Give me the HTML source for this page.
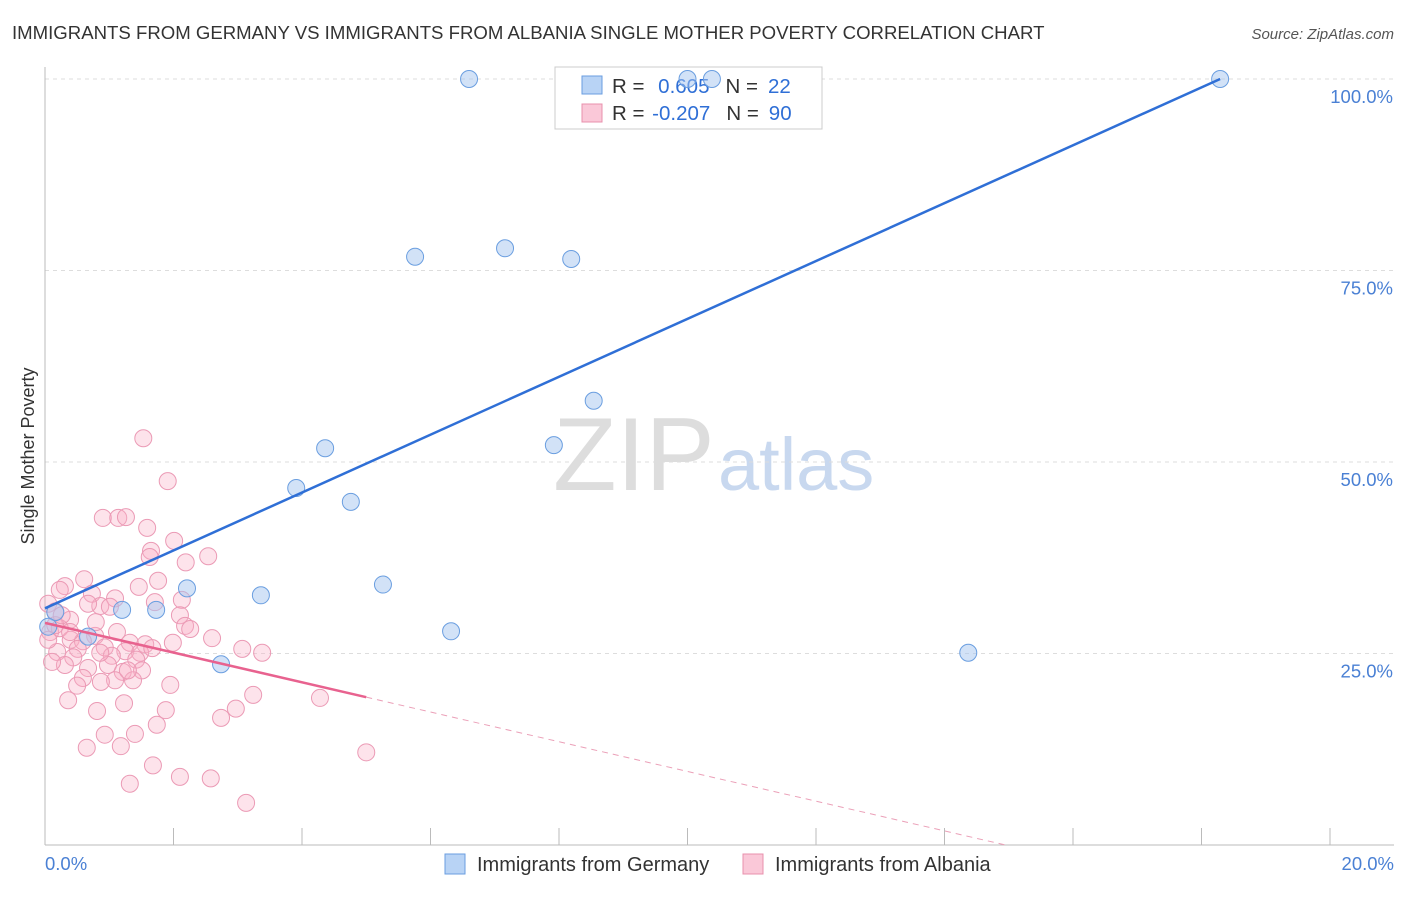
<!DOCTYPE html>
<html><head><meta charset="utf-8"><style>
body{margin:0;background:#fff;font-family:"Liberation Sans",sans-serif;}
svg text{font-family:"Liberation Sans",sans-serif;}
</style></head><body>
<svg id="chart" width="1406" height="892">
<text x="12" y="39" font-size="18.6" fill="#333">IMMIGRANTS FROM GERMANY VS IMMIGRANTS FROM ALBANIA SINGLE MOTHER POVERTY CORRELATION CHART</text>
<text x="1394" y="39" font-size="15" fill="#555" text-anchor="end" font-style="italic">Source: ZipAtlas.com</text>
<text x="34" y="456" font-size="18" fill="#333" text-anchor="middle" transform="rotate(-90 34 456)">Single Mother Poverty</text>
<text x="553" y="490" font-size="104" fill="#ddd" font-family="Liberation Serif">ZIP</text>
<text x="718" y="490" font-size="74" fill="#c8d8ef">atlas</text>
<g id="grid"></g><g id="axes"></g>
<g>
<rect x="555" y="67" width="267" height="62" fill="#fff" stroke="#ccc"/>
<rect x="582" y="76" width="20" height="18" fill="#b8d3f5" stroke="#6a9ee0"/>
<rect x="582" y="104" width="20" height="18" fill="#fac8d8" stroke="#e890ac"/>
<text x="612" y="93" font-size="20.5" fill="#333">R = <tspan fill="#2f6fd6" dx="8">0.605</tspan><tspan fill="#333" dx="16">N =</tspan><tspan fill="#2f6fd6" dx="10">22</tspan></text>
<text x="612" y="120" font-size="20.5" fill="#333">R = <tspan fill="#2f6fd6" dx="2">-0.207</tspan><tspan fill="#333" dx="16">N =</tspan><tspan fill="#2f6fd6" dx="10">90</tspan></text>
</g>
<g id="marks"></g>
<g>
<rect x="445" y="854" width="20" height="20" fill="#b8d3f5" stroke="#6a9ee0"/>
<text x="477" y="871" font-size="20" fill="#333">Immigrants from Germany</text>
<rect x="743" y="854" width="20" height="20" fill="#fac8d8" stroke="#e890ac"/>
<text x="775" y="871" font-size="20" fill="#333">Immigrants from Albania</text>
</g>
</svg>
<script>
const yTicks=[25,50,75,100];
const yTickLabels=["25.0%","50.0%","75.0%","100.0%"];
const xTickLabels=["0.0%","20.0%"];
const germanyX=[6.60,10.0,10.38,18.29,5.76,7.16,8.19,8.54,4.36,7.92,3.91,4.76,2.21,1.73,1.20,3.36,5.26,6.32,14.37,2.74,0.67,0.16,0.05];
const germanyY=[100,100,100,100,76.8,77.9,76.5,58.0,51.8,52.2,46.6,44.8,33.5,30.7,30.7,32.6,34.0,27.9,25.1,23.6,27.2,30.4,28.5];
const albaniaX=[1.53,1.91,0.90,1.14,1.26,1.59,2.01,1.65,1.63,2.54,2.19,0.61,1.76,0.31,1.46,0.23,0.73,1.09,2.13,1.71,0.86,0.67,1.01,0.05,0.16,2.10,0.39,2.18,2.26,1.12,2.60,0.78,0.08,0.23,1.99,1.32,1.56,0.40,0.59,0.93,0.51,1.25,1.48,3.07,3.38,0.19,0.44,1.04,1.42,0.98,1.21,0.31,0.67,1.51,0.59,1.37,1.09,0.87,1.95,0.50,3.24,4.28,0.36,1.23,0.81,1.88,2.97,1.74,2.74,1.40,0.93,0.65,1.18,5.00,1.68,2.10,2.58,1.32,3.13,0.16,0.39,0.05,0.11,0.79,0.26,0.86,1.29,1.67];
const albaniaY=[53.1,47.5,42.7,42.7,42.8,41.4,39.7,38.4,37.6,37.7,36.9,34.7,34.5,33.8,33.7,33.3,32.8,32.2,32.0,31.7,31.2,31.5,31.1,31.5,30.5,30.0,29.4,28.6,28.2,27.8,27.0,27.3,27.8,28.3,26.4,26.4,26.2,26.8,26.6,25.8,25.6,25.3,25.1,25.6,25.1,25.2,24.5,24.7,24.2,23.5,22.6,23.5,23.1,22.8,21.8,21.5,21.5,21.3,20.9,20.8,19.6,19.2,18.9,18.5,17.5,17.6,17.8,15.7,16.6,14.5,14.4,12.7,12.9,12.1,10.4,8.9,8.7,8.0,5.5,28.7,27.8,26.8,23.9,29.1,30.0,25.1,22.8,25.7];
const germanyTrend=[30.9,18.29,100];
const albaniaTrend=[29.0,-1.94];
const albaniaSolidEnd=5.0;
const X0=45,X1=1330,Y0=845,Y100=79;
const sx=v=>X0+(v/20)*(X1-X0);
const sy=v=>Y0-(v/100)*(Y0-Y100);
const NS="http://www.w3.org/2000/svg";
function mk(tag,attrs,parent){const e=document.createElementNS(NS,tag);for(const k in attrs)e.setAttribute(k,attrs[k]);parent.appendChild(e);return e;}
const grid=document.getElementById('grid'),axes=document.getElementById('axes'),marks=document.getElementById('marks');
yTicks.forEach((t,i)=>{
 const l=mk('line',{x1:45,x2:1394,y1:sy(t),y2:sy(t),stroke:'#ddd','stroke-dasharray':'4 4'},grid);
 
 
 const tx=mk('text',{x:1393,y:sy(t)+24,'font-size':18.5,fill:'#4a80d4','text-anchor':'end'},axes);
 tx.textContent=yTickLabels[i];
 
 
});
const ax=mk('line',{x1:45,x2:1394,y1:845,y2:845,stroke:'#bbb'},axes);


const ay=mk('line',{x1:45,x2:45,y1:67,y2:845,stroke:'#bbb'},axes);


for(let i=0;i<=10;i++){
 const t=mk('line',{x1:sx(i*2),x2:sx(i*2),y1:828,y2:845,stroke:'#bbb'},axes);
 
 
}
[[45,'start'],[1394,'end']].forEach((p,i)=>{
 const t=mk('text',{x:p[0],y:870,'font-size':18.5,fill:'#4a80d4','text-anchor':p[1]},axes);
 t.textContent=xTickLabels[i];
 
 
});
albaniaX.forEach((x,i)=>{
 const c=mk('circle',{cx:sx(x),cy:sy(albaniaY[i]),r:8.5,fill:'rgba(248,175,198,0.35)',stroke:'#eb9ab5','stroke-width':1},marks);
 
 
});
germanyX.forEach((x,i)=>{
 const c=mk('circle',{cx:sx(x),cy:sy(germanyY[i]),r:8.5,fill:'rgba(165,198,240,0.5)',stroke:'#6a9ee0','stroke-width':1},marks);
 
 
});
const bt=mk('line',{x1:sx(0),y1:sy(germanyTrend[0]),x2:sx(germanyTrend[1]),y2:sy(germanyTrend[2]),stroke:'#2f6fd6','stroke-width':2.5},marks);


const pa=v=>albaniaTrend[0]+albaniaTrend[1]*v;
const zeroX=-albaniaTrend[0]/albaniaTrend[1];
const pt=mk('line',{x1:sx(0),y1:sy(pa(0)),x2:sx(albaniaSolidEnd),y2:sy(pa(albaniaSolidEnd)),stroke:'#e8628f','stroke-width':2.5},marks);


const pd=mk('line',{x1:sx(albaniaSolidEnd),y1:sy(pa(albaniaSolidEnd)),x2:sx(zeroX),y2:sy(0),stroke:'#eba0b8','stroke-width':1,'stroke-dasharray':'6 5'},marks);


</script>
</body></html>
